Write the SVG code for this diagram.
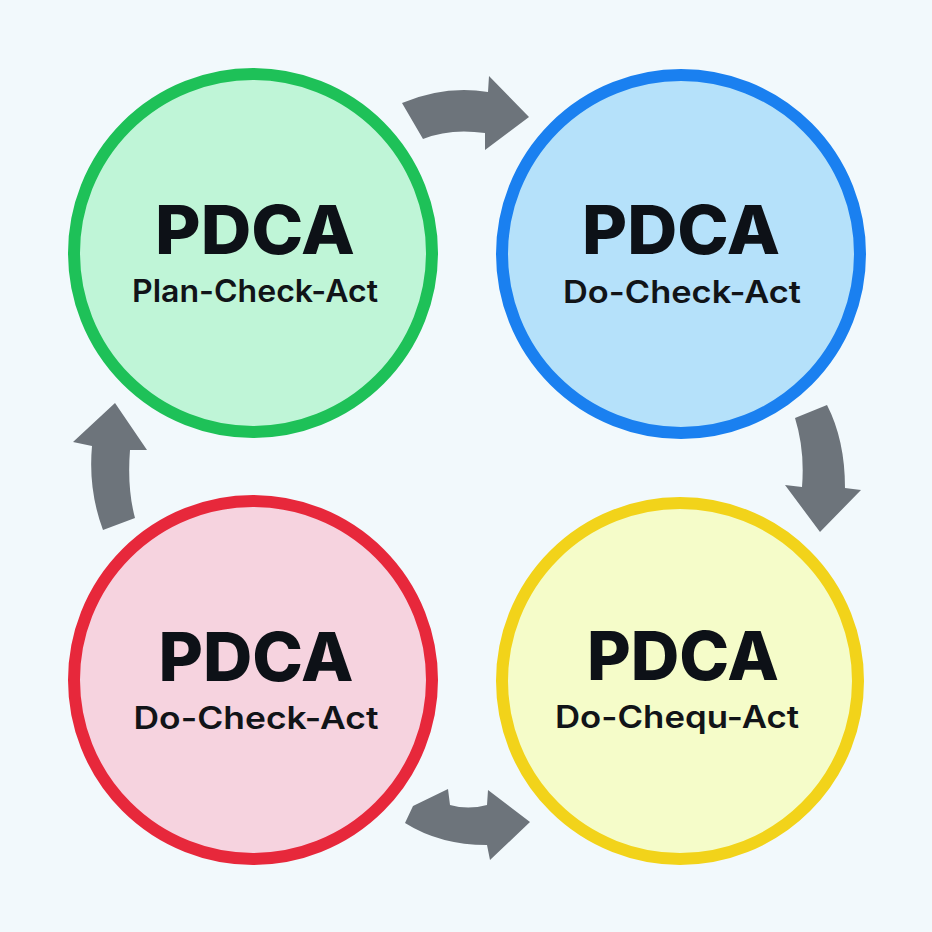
<svg xmlns="http://www.w3.org/2000/svg" width="932" height="932" viewBox="0 0 932 932">
<style>
.ring{stroke-width:12}
.t1{font-family:Inter,"Liberation Sans",Arial,sans-serif;font-weight:800;fill:#0d1117;text-anchor:middle;font-size:67px}
.t2{font-family:Inter,"Liberation Sans",Arial,sans-serif;font-weight:600;fill:#111418;text-anchor:middle;font-size:31px}
.arr{fill:#6d747b}
</style>
<rect width="932" height="932" fill="#f2f9fc"/>
<g id="connectors">
<path class="arr" d="M402,103 Q445,85 488,92 L489,76 L529,117 L485,150 L485,133 Q450,128 423,139 Z"/>
<path class="arr" d="M795,418 L827,405 Q845,440 845,488 L861,490 L820,532 L785,485 L802,487 Q805,450 795,418 Z"/>
<path class="arr" d="M405,823 L413,806 L448,789 L450,805 Q468,810 487,805 L488,790 L530,822 L490,860 L487,845 Q440,845 405,823 Z"/>
<path class="arr" d="M103,530 Q88,490 92,446 L73,442 L115,403 L147,450 L130,450 Q127,488 135,518 Z"/>
</g>
<g id="plan">
<circle class="ring" cx="253" cy="253" r="179" fill="#bff5d7" stroke="#1ec158"/>
<text class="t1" x="255" y="254" textLength="200" lengthAdjust="spacingAndGlyphs">PDCA</text>
<text class="t2" x="255" y="302" textLength="246" lengthAdjust="spacingAndGlyphs">Plan-Check-Act</text>
</g>
<g id="do">
<circle class="ring" cx="681" cy="254" r="179" fill="#b5e1fa" stroke="#1a80f0"/>
<text class="t1" x="681" y="254" textLength="198" lengthAdjust="spacingAndGlyphs">PDCA</text>
<text class="t2" x="682" y="303" textLength="238" lengthAdjust="spacingAndGlyphs">Do-Check-Act</text>
</g>
<g id="act">
<circle class="ring" cx="253" cy="680" r="179" fill="#f6d3df" stroke="#e7283b"/>
<text class="t1" x="256" y="681" textLength="195" lengthAdjust="spacingAndGlyphs">PDCA</text>
<text class="t2" x="256" y="729" textLength="245" lengthAdjust="spacingAndGlyphs">Do-Check-Act</text>
</g>
<g id="check">
<circle class="ring" cx="680" cy="681" r="178" fill="#f5fcc9" stroke="#f2d31a"/>
<text class="t1" x="683" y="680" textLength="192" lengthAdjust="spacingAndGlyphs">PDCA</text>
<text class="t2" x="677" y="728" textLength="244" lengthAdjust="spacingAndGlyphs">Do-Chequ-Act</text>
</g>
</svg>
